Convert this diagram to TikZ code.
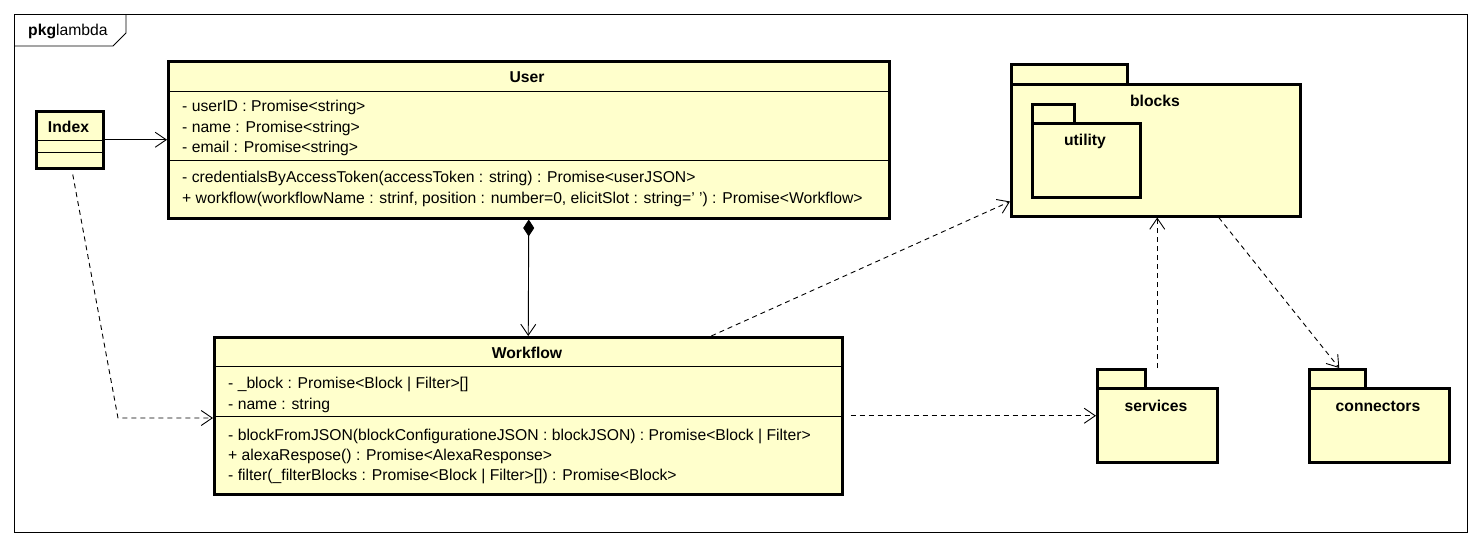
\documentclass[tikz,border=0pt]{standalone}
\usepackage{fontspec}
\setmainfont{Liberation Sans}
\usetikzlibrary{arrows.meta,calc}
\definecolor{ucol}{RGB}{255,255,204}
\begin{document}
\begin{tikzpicture}[x=1pt,y=-1pt,
  box/.style={draw, line width=2.5pt, fill=ucol, anchor=north west, inner sep=0pt},
  sep/.style={line width=0.9pt},
  txt/.style={anchor=west, inner sep=0pt, font=\fontsize{15.7}{18}\selectfont},
  ttl/.style={inner sep=0pt, font=\bfseries\fontsize{15.7}{18}\selectfont},
  openarr/.style={-{Straight Barb[length=11pt,width=15pt,line width=0.9pt]}, line width=0.9pt},
  dep/.style={openarr, dash pattern=on 5pt off 4pt},
  frameline/.style={line width=0.8pt}
]
\useasboundingbox (0,0) rectangle (1481,546);
% outer frame
\draw[frameline] (14,14) rectangle (1467,532);
\draw[frameline] (14,46) -- (113,46) -- (126,33) -- (126,14);
\node[anchor=west, inner sep=0pt, font=\fontsize{15.7}{18}\selectfont] (pkglabel) at (28,31) {\textbf{pkg}lambda};

% Index
\node[box, minimum width=67pt, minimum height=57pt] (index) at (35,110) {};
\node[ttl] (indext) at (68.5,127) {Index};
\draw[sep] (35,140) -- (102,140);
\draw[sep] (35,152) -- (102,152);

% User
\node[box, minimum width=721pt, minimum height=157pt] (user) at (167,60) {};
\node[ttl] (usert) at (527,77) {User};
\draw[sep] (167,91) -- (888,91);
\draw[sep] (167,160) -- (888,160);
\node[txt] (u1) at (182,107) {- userID : Promise<string>};
\node[txt] (u2) at (182,128) {- name : Promise<string>};
\node[txt] (u3) at (182,148) {- email : Promise<string>};
\node[txt] (u4) at (182,178) {- credentialsByAccessToken(accessToken : string) : Promise<userJSON>};
\node[txt] (u5) at (182,199) {+ workflow(workflowName : strinf, position : number=0, elicitSlot : string=' ') : Promise<Workflow>};

% Workflow
\node[box, minimum width=628pt, minimum height=157pt] (wf) at (213,336) {};
\node[ttl] (wft) at (527,353) {Workflow};
\draw[sep] (213,366) -- (841,366);
\draw[sep] (213,416) -- (841,416);
\node[txt] (w1) at (228,384) {- \_block : Promise<Block | Filter>[]};
\node[txt] (w2) at (228,405) {- name : string};
\node[txt] (w3) at (228,436) {- blockFromJSON(blockConfigurationeJSON : blockJSON) : Promise<Block | Filter>};
\node[txt] (w4) at (228,456) {+ alexaRespose() : Promise<AlexaResponse>};
\node[txt] (w5) at (228,476) {- filter(\_filterBlocks : Promise<Block | Filter>[]) : Promise<Block>};

% blocks package
\node[box, minimum width=116pt, minimum height=20pt] (blockstab) at (1010,63) {};
\node[box, minimum width=289pt, minimum height=132pt] (blocksbody) at (1010,83) {};
\node[ttl] (blockst) at (1155,101) {blocks};
\node[box, minimum width=42pt, minimum height=19pt] (utiltab) at (1031,103) {};
\node[box, minimum width=108pt, minimum height=74pt] (utilbody) at (1031,122) {};
\node[ttl] (utilt) at (1085,141) {utility};

% services package
\node[box, minimum width=48pt, minimum height=19pt] (servtab) at (1096,368) {};
\node[box, minimum width=120pt, minimum height=74pt] (servbody) at (1096,387) {};
\node[ttl] (servt) at (1156,406) {services};

% connectors package
\node[box, minimum width=56pt, minimum height=19pt] (contab) at (1308,368) {};
\node[box, minimum width=140pt, minimum height=74pt] (conbody) at (1308,387) {};
\node[ttl] (cont) at (1378,406) {connectors};

% connectors
\draw[openarr] (index.east) -- (index.east -| user.west);
\draw[openarr, {Diamond[fill=black,length=17pt,width=11pt]}-{Straight Barb[length=11pt,width=15pt,line width=0.9pt]}] (user.south) -- (wf.north);
\coordinate (bend) at (118,418);
\draw[dep] ([xshift=3pt,yshift=-5pt]index.south) -- (bend) -- (bend -| wf.west);
\draw[dep] ([xshift=183pt]wf.north) -- ([yshift=16pt]blocksbody.south west);
\draw[dep] ([xshift=7pt]wf.east) -- (wf.east -| servbody.west);
\draw[dep] ([yshift=19pt]servbody.north) -- (servbody.north |- blocksbody.south);
\draw[dep] ([xshift=63pt]blocksbody.south) -- ([xshift=-40pt]conbody.north |- contab.north);
\end{tikzpicture}
\end{document}
